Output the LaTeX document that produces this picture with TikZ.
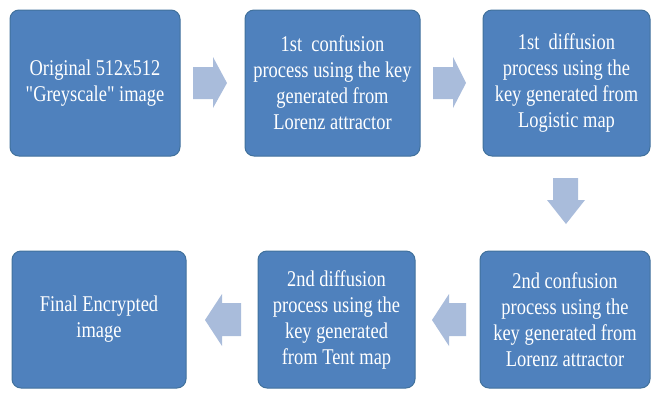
\documentclass[tikz,border=0pt]{standalone}
\usepackage{fontspec}
\newfontfamily\boxfont[FakeStretch=0.82]{Liberation Serif}
\definecolor{boxblue}{HTML}{4F81BD}
\definecolor{boxedge}{HTML}{41719C}
\definecolor{arrowfill}{HTML}{A9BCDB}
\tikzset{
  stagebox/.style={draw=boxedge, line width=1pt, fill=boxblue, rounded corners=9pt,
    text=white, align=center, inner sep=0pt,
    font=\boxfont\fontsize{22.5}{26}\selectfont},
  blockarrow/.style={fill=arrowfill, draw=none}
}
\begin{document}
\begin{tikzpicture}[x=1pt,y=-1pt]
\useasboundingbox (0,0) rectangle (654,392);
% top row
\node[stagebox, minimum width=170pt, minimum height=146pt] (orig) at (95,83)
  {Original 512x512\\"Greyscale" image};
\node[stagebox, minimum width=175pt, minimum height=146pt] (conf1) at (332.5,83)
  {1st\ \ confusion\\process using the key\\generated from\\Lorenz attractor};
\node[stagebox, minimum width=167pt, minimum height=146pt] (diff1) at (566.5,83)
  {1st\ \ diffusion\\process using the\\key generated from\\Logistic map};
% bottom row
\node[stagebox, minimum width=170pt, minimum height=137pt] (conf2) at (565,319.5)
  {2nd confusion\\process using the\\key generated from\\Lorenz attractor};
\node[stagebox, minimum width=157pt, minimum height=137pt] (diff2) at (336.5,319.5)
  {2nd diffusion\\process using the\\key generated\\from Tent map};
\node[stagebox, minimum width=174pt, minimum height=137pt] (final) at (99,319.5)
  {Final Encrypted\\image};
% block arrows between the stages
\fill[blockarrow] (193,67) -- (213,67) -- (213,57) -- (227,83) -- (213,108) -- (213,99) -- (193,99) -- cycle;
\fill[blockarrow] (433,67) -- (453,67) -- (453,57) -- (466,83) -- (453,108) -- (453,99) -- (433,99) -- cycle;
\fill[blockarrow] (553,178) -- (578,178) -- (578,200) -- (585,200) -- (566,224) -- (547,200) -- (553,200) -- cycle;
\fill[blockarrow] (466,303) -- (449,303) -- (449,294) -- (432,320) -- (449,346) -- (449,336) -- (466,336) -- cycle;
\fill[blockarrow] (241,303) -- (222,303) -- (222,294) -- (205,320) -- (222,346) -- (222,336) -- (241,336) -- cycle;
\end{tikzpicture}
\end{document}
